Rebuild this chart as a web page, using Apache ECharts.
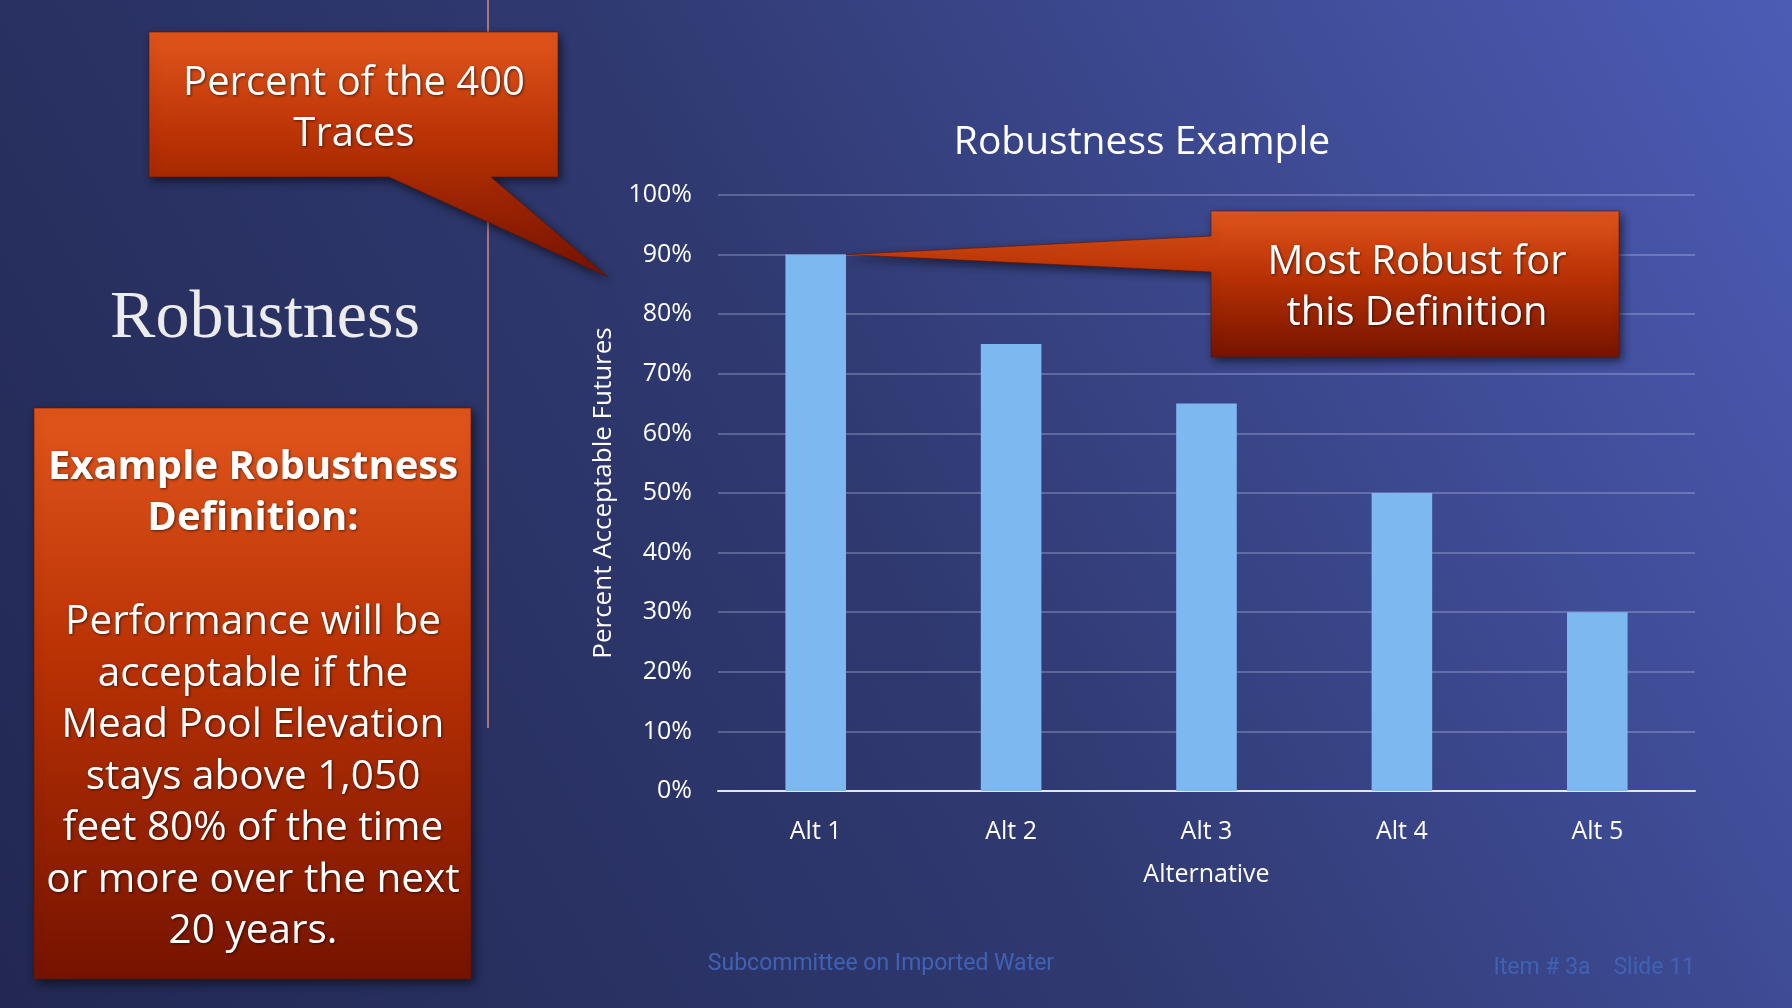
<!DOCTYPE html>
<html>
<head>
<meta charset="utf-8">
<script src="https://cdn.jsdelivr.net/npm/echarts@6/dist/echarts.min.js"></script>
<style>
html,body{margin:0;padding:0;width:1792px;height:1008px;overflow:hidden;background:#2c3366;}
#c{width:1792px;height:1008px;}
</style>
</head>
<body>
<div id="c"></div>
<script>
var categories = ['Alt 1', 'Alt 2', 'Alt 3', 'Alt 4', 'Alt 5'];
var robustness = [90, 75, 65, 50, 30];
var yTicks = [0, 10, 20, 30, 40, 50, 60, 70, 80, 90, 100];

var chart = echarts.init(document.getElementById('c'), null, {renderer: 'canvas'});

var calloutFill = {
  type: 'linear', x: 0, y: 0, x2: 0, y2: 1,
  colorStops: [
    {offset: 0, color: '#e2561c'},
    {offset: 0.45, color: '#b83104'},
    {offset: 1, color: '#761300'}
  ]
};

var baseFont = '"Open Sans", "Noto Sans", sans-serif';

var option = {
  backgroundColor: {
    type: 'linear', x: 0, y: 1, x2: 1, y2: 0,
    colorStops: [
      {offset: 0, color: '#222852'},
      {offset: 0.5, color: '#303a72'},
      {offset: 1, color: '#4c5cb6'}
    ]
  },
  title: {
    text: 'Robustness Example',
    left: 1137,
    textAlign: 'center',
    top: 118,
    textStyle: {color: '#ffffff', fontSize: 39, fontWeight: 'normal', fontFamily: baseFont}
  },
  grid: {left: 718, right: 97, top: 195, bottom: 217, containLabel: false},
  xAxis: {
    type: 'category',
    data: categories,
    name: 'Alternative',
    nameLocation: 'middle',
    nameGap: 71,
    nameTextStyle: {color: '#ffffff', fontSize: 25, fontFamily: baseFont},
    axisLine: {lineStyle: {color: '#e6e6e6', width: 2}},
    axisTick: {show: false},
    axisLabel: {color: '#ffffff', fontSize: 25, margin: 28, fontFamily: baseFont}
  },
  yAxis: {
    type: 'value',
    min: yTicks[0],
    max: yTicks[yTicks.length - 1],
    interval: yTicks[1] - yTicks[0],
    name: 'Percent Acceptable Futures',
    nameLocation: 'middle',
    nameGap: 101,
    nameTextStyle: {color: '#ffffff', fontSize: 26, fontFamily: baseFont},
    axisLine: {show: false},
    axisTick: {show: false},
    axisLabel: {color: '#ffffff', fontSize: 25, margin: 26, fontFamily: baseFont, formatter: '{value}%'},
    splitLine: {lineStyle: {color: 'rgba(200,210,240,0.38)', width: 1.5}}
  },
  series: [{
    type: 'bar',
    data: robustness,
    barWidth: '31%',
    itemStyle: {color: '#7eb8f1'},
    z: 2
  }]
};
chart.setOption(option);

// anchor the right callout's pointer on the top-right corner of the first bar
var tip = [847, 256];
try {
  var lay = chart.getModel().getSeriesByIndex(0).getData().getItemLayout(0);
  if (lay) { tip = [lay.x + lay.width, lay.y + (lay.height < 0 ? lay.height : 0)]; }
} catch (e) {}

var shadow = {shadowBlur: 10, shadowColor: 'rgba(0,0,0,0.55)', shadowOffsetX: 3, shadowOffsetY: 4};
function styleWith(o) { var s = {}; var k; for (k in o) s[k] = o[k]; for (k in shadow) s[k] = shadow[k]; return s; }

var txtShadow = {textShadowBlur: 3, textShadowColor: 'rgba(0,0,0,0.6)', textShadowOffsetX: 1, textShadowOffsetY: 1};
function centered(o) {
  var s = {align: 'center', verticalAlign: 'middle', textAlign: 'center', textVerticalAlign: 'middle', fill: '#ffffff'};
  var k; for (k in txtShadow) s[k] = txtShadow[k]; for (k in o) s[k] = o[k]; return s;
}

chart.setOption({
  graphic: [
    // divider line
    {type: 'line', shape: {x1: 488, y1: 0, x2: 488, y2: 728}, style: {stroke: '#d98a78', lineWidth: 1.5}, z: 1},
    // Robustness heading
    {type: 'text', x: 265, y: 319, style: {
      text: 'Robustness', fill: '#ececec',
      font: '400 68px "Liberation Serif", "DejaVu Serif", serif',
      align: 'center', verticalAlign: 'middle', textAlign: 'center', textVerticalAlign: 'middle'
    }},
    // top callout
    {type: 'polygon', z: 5, shape: {points: [[149, 32], [558, 32], [558, 177], [491, 177], [608, 277], [389, 177], [149, 177]]},
      style: styleWith({fill: calloutFill, stroke: 'rgba(90,20,0,0.6)', lineWidth: 1})},
    {type: 'text', z: 6, x: 354, y: 109, style: centered({
      text: 'Percent of the 400\nTraces', lineHeight: 51,
      font: '400 40px ' + baseFont
    })},
    // right callout
    {type: 'polygon', z: 5, shape: {points: [[1211, 211], [1619, 211], [1619, 357], [1211, 357], [1211, 272], tip, [1211, 236]]},
      style: styleWith({fill: calloutFill, stroke: 'rgba(90,20,0,0.6)', lineWidth: 1})},
    {type: 'text', z: 6, x: 1417, y: 288, style: centered({
      text: 'Most Robust for\nthis Definition', lineHeight: 51,
      font: '400 40px ' + baseFont
    })},
    // left definition box
    {type: 'rect', z: 5, shape: {x: 34, y: 408, width: 437, height: 571},
      style: styleWith({fill: calloutFill, stroke: 'rgba(90,20,0,0.6)', lineWidth: 1})},
    {type: 'text', z: 6, x: 253, y: 493, style: centered({
      text: 'Example Robustness\nDefinition:', lineHeight: 51,
      font: '700 40px ' + baseFont
    })},
    {type: 'text', z: 6, x: 253, y: 777, style: centered({
      text: 'Performance will be\nacceptable if the\nMead Pool Elevation\nstays above 1,050\nfeet 80% of the time\nor more over the next\n20 years.',
      lineHeight: 51.5,
      font: '400 40.5px ' + baseFont
    })},
    // footers
    {type: 'text', x: 881, y: 964, style: {
      text: 'Subcommittee on Imported Water', fill: '#3f62b4',
      font: '400 23px Roboto, sans-serif',
      align: 'center', verticalAlign: 'middle', textAlign: 'center', textVerticalAlign: 'middle'
    }},
    {type: 'text', x: 1695, y: 968, style: {
      text: 'Item # 3a    Slide 11', fill: '#3f62b4',
      font: '400 23px Roboto, sans-serif',
      align: 'right', verticalAlign: 'middle', textAlign: 'right', textVerticalAlign: 'middle'
    }}
  ]
});
</script>
</body>
</html>
